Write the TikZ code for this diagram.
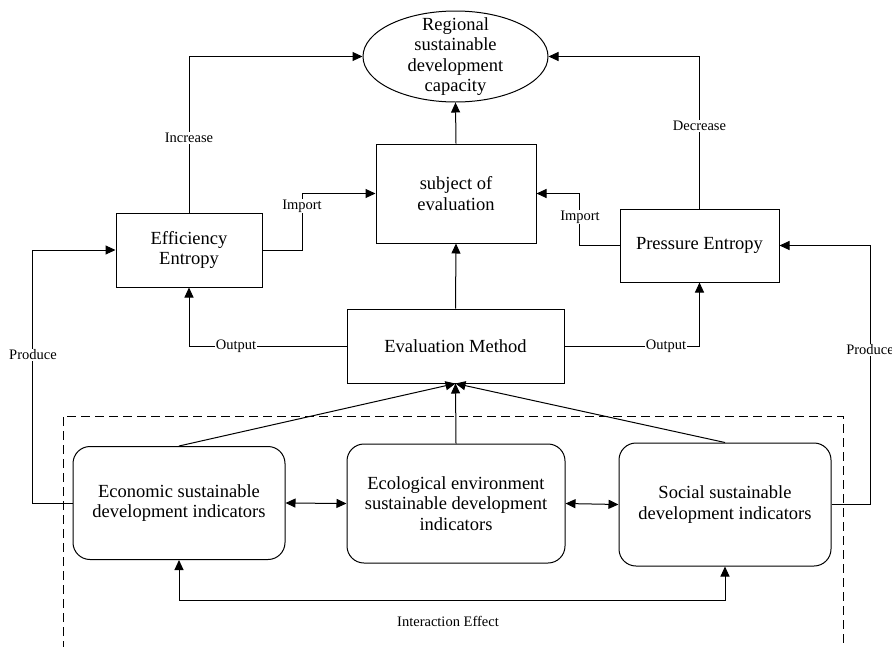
\documentclass[tikz,border=0pt]{standalone}
\usepackage{fontspec}
\setmainfont{Liberation Serif}
\usetikzlibrary{arrows.meta}
\usetikzlibrary{shapes}

\begin{document}
\begin{tikzpicture}[x = 1pt, y = -1pt, line width = 1pt, font = \fontsize{18.5}{20.5}\selectfont]
\tikzstyle{boxStyle} = [draw, rectangle, inner sep = 0pt, align = center]
\tikzstyle{roundStyle} = [draw, rectangle, rounded corners = 17pt, inner sep = 0pt, align = center]
\tikzstyle{ellStyle} = [draw, ellipse, inner sep = 0pt]
\tikzstyle{labelStyle} = [fill = white, inner sep = 1pt, font = \fontsize{14.5}{16}\selectfont]
\tikzstyle{arrowStyle} = [-{Triangle[length = 10pt, width = 9pt]}]
\tikzstyle{twoWayStyle} = [{Triangle[length = 10pt, width = 9pt]}-{Triangle[length = 10pt, width = 9pt]}]
\tikzstyle{dashStyle} = [dash pattern = on 9pt off 5pt]
\useasboundingbox (0,0) rectangle (892,646);
\node[ellStyle, minimum width = 185pt, minimum height = 91pt] (cap) at (455.5,56.5) {};
\node[align = center, inner sep = 0pt] (capText) at (cap.center) {Regional\\sustainable\\development\\capacity};
\node[boxStyle, minimum width = 160pt, minimum height = 99pt] (subj) at (456,193.5) {subject of\\evaluation};
\node[boxStyle, minimum width = 146pt, minimum height = 74pt] (eff) at (189,250) {Efficiency\\Entropy};
\node[boxStyle, minimum width = 159pt, minimum height = 73pt] (press) at (699.5,245.5) {Pressure Entropy};
\node[boxStyle, minimum width = 217pt, minimum height = 74pt] (eval) at (455.5,346) {Evaluation Method};
\node[roundStyle, minimum width = 212pt, minimum height = 113pt] (econ) at (179,503) {Economic sustainable\\development indicators};
\node[roundStyle, minimum width = 218pt, minimum height = 119pt] (ecol) at (456,503.5) {Ecological environment\\sustainable development\\indicators};
\node[roundStyle, minimum width = 212pt, minimum height = 123pt] (soc) at (725,504.5) {Social sustainable\\development indicators};
\draw[dashStyle] (63,650) -- (63,416) -- (843,416) -- (843,650);
\draw[arrowStyle] (subj.north) -- (cap.south);
\draw[arrowStyle] (eval.north) -- (subj.south);
\draw[arrowStyle] (eff.north) |- (cap.west);
\draw[arrowStyle] (press.north) |- (cap.east);
\draw[arrowStyle] (eff.east) -- ++(40,0) |- (subj.west);
\draw[arrowStyle] (press.west) -- ++(-40,0) |- (subj.east);
\draw[arrowStyle] (eval.west) -| (eff.south);
\draw[arrowStyle] (eval.east) -| (press.south);
\draw[arrowStyle] (econ.west) -- ++(-40,0) |- (eff.west);
\draw[arrowStyle] (soc.east) -- ++(39,0) |- (press.east);
\draw[arrowStyle] (econ.north) -- (eval.south);
\draw[arrowStyle] (ecol.north) -- (eval.south);
\draw[arrowStyle] (soc.north) -- (eval.south);
\draw[twoWayStyle] (econ.east) -- (ecol.west);
\draw[twoWayStyle] (ecol.east) -- (soc.west);
\draw[twoWayStyle] (econ.south) -- (econ.south |- 0,600) -| (soc.south);
\node[labelStyle] (incLabel) at (189,138) {Increase};
\node[labelStyle] (decLabel) at (699.5,126) {Decrease};
\node[labelStyle] (impLeft) at (302,206) {Import};
\node[labelStyle] (impRight) at (580,217) {Import};
\node[labelStyle] (outLeft) at (236,346) {Output};
\node[labelStyle] (outRight) at (666,346) {Output};
\node[labelStyle] (prodLeft) at (33,355) {Produce};
\node[labelStyle] (prodRight) at (870,350) {Produce};
\node[labelStyle] (interLabel) at (448,621) {Interaction Effect};
\end{tikzpicture}
\end{document}
